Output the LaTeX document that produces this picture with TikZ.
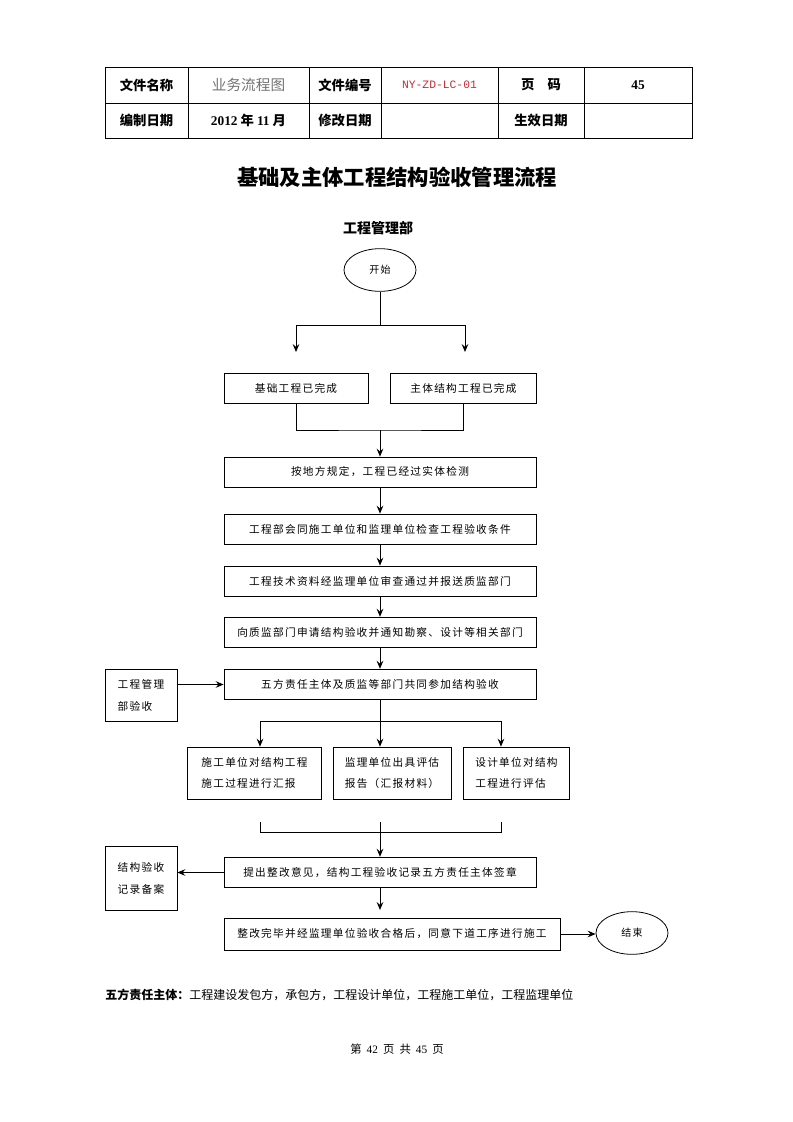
\documentclass[tikz,border=0pt]{standalone}
\usepackage{fontspec}
\setmainfont{Noto Sans CJK SC}
\newfontfamily\kuangfont[LetterSpace=12]{Noto Sans CJK SC}
\newfontfamily\shuzifont{Liberation Serif}
\newfontfamily\bianhaofont{Liberation Mono}
\usetikzlibrary{arrows.meta,shapes.geometric}
\tikzset{every picture/.style={line width=0.6pt}}
\tikzset{
	kuang/.style={draw,rectangle,inner sep=2pt,minimum height=23pt,
		font=\kuangfont\fontsize{8pt}{15.5pt}\selectfont},
	xiaokuang/.style={draw,rectangle,inner sep=2pt,align=left,minimum width=54pt,
		font=\kuangfont\fontsize{8pt}{16.5pt}\selectfont},
	tuoyuan/.style={draw,ellipse,inner sep=0pt,minimum width=54pt,minimum height=32pt,
		font=\kuangfont\fontsize{7.5pt}{9pt}\selectfont},
	jiantou/.style={-{Stealth[length=6pt,width=5pt,inset=2.2pt]}},
	biaotou/.style={font=\bfseries\fontsize{10pt}{12pt}\selectfont}
}

\begin{document}
\begin{tikzpicture}[x=0.75pt,y=0.75pt,yscale=-1,xscale=1]
	\useasboundingbox (0,0) rectangle (793,1122);

	%Table: header
	\draw (105,67) rectangle (692,138);
	\draw (105,103) -- (692,103);
	\foreach \lie in {188,309,381,498,584}
		\draw (\lie,67) -- (\lie,138);

	% Text Node
	\node[biaotou] (mingcheng) at (146.5,85) {文件名称};
	\node[font=\fontsize{11pt}{13pt}\selectfont,text=black!55] (yewu) at (248.5,85) {业务流程图};
	\node[biaotou] (bianhao) at (345,85) {文件编号};
	\node[font=\bianhaofont\fontsize{8.5pt}{10pt}\selectfont,text={rgb,255:red,200;green,40;blue,50}] (daihao) at (439.5,85) {NY-ZD-LC-01};
	\node[biaotou] (yema) at (541,85) {页\quad 码};
	\node[biaotou] (zongye) at (638,85) {\shuzifont 45};
	\node[biaotou] (bianzhi) at (146.5,120.5) {编制日期};
	\node[biaotou] (riqi) at (248.5,120.5) {{\shuzifont 2012} 年 {\shuzifont 11} 月};
	\node[biaotou] (xiugai) at (345,120.5) {修改日期};
	\node[biaotou] (shengxiao) at (541,120.5) {生效日期};

	% Text Node
	\node[font=\bfseries\fontsize{16pt}{18pt}\selectfont] (biaoti) at (397,177) {基础及主体工程结构验收管理流程};
	\node[font=\bfseries\fontsize{10.5pt}{12pt}\selectfont] (bumen) at (378,228) {工程管理部};

	%Shape: Ellipse
	\node[tuoyuan] (kaishi) at (380,270) {开始};

	%Shape: Rectangle
	\node[kuang,minimum width=108pt] (jichu) at (296,388.5) {基础工程已完成};
	\node[kuang,minimum width=109pt] (zhuti) at (463.5,388.5) {主体结构工程已完成};
	\node[kuang,minimum width=234pt,minimum height=22.5pt] (jiance) at (380,472) {按地方规定，工程已经过实体检测};
	\node[kuang,minimum width=234pt,minimum height=22.5pt] (tiaojian) at (380,529) {工程部会同施工单位和监理单位检查工程验收条件};
	\node[kuang,minimum width=234pt,minimum height=22.5pt] (ziliao) at (380,581) {工程技术资料经监理单位审查通过并报送质监部门};
	\node[kuang,minimum width=234pt] (shenqing) at (380,632.5) {向质监部门申请结构验收并通知勘察、设计等相关部门};
	\node[kuang,minimum width=234pt] (yanshou) at (380,684.5) {五方责任主体及质监等部门共同参加结构验收};
	\node[xiaokuang,minimum height=39pt] (guanli) at (141,695) {工程管理\\部验收};

	\node[kuang,align=left,minimum width=100pt,minimum height=39pt] (huibao) at (254.5,773) {施工单位对结构工程\\施工过程进行汇报};
	\node[kuang,align=left,minimum width=88.5pt,minimum height=39pt] (pinggu) at (392,773) {监理单位出具评估\\报告（汇报材料）};
	\node[kuang,align=left,minimum width=79pt,minimum height=39pt] (sheji) at (516.5,773) {设计单位对结构\\工程进行评估};

	\node[kuang,minimum width=234pt] (yijian) at (380,872.5) {提出整改意见，结构工程验收记录五方责任主体签章};
	\node[xiaokuang,minimum height=48pt] (beian) at (141,878) {结构验收\\记录备案};
	\node[kuang,minimum width=252pt,minimum height=24pt] (zhenggai) at (392,934) {整改完毕并经监理单位验收合格后，同意下道工序进行施工};
	\node[tuoyuan] (jieshu) at (632,933) {结束};

	%Straight Lines: split after start
	\coordinate (fen) at (380,325);
	\coordinate (fenzuo) at (296,325);
	\coordinate (fenyou) at (465,325);
	\coordinate (zuodi) at (296,352);
	\coordinate (youdi) at (465,352);
	\draw (kaishi.south) -- (fen);
	\draw (fenzuo) -- (fenyou);
	\draw[jiantou] (fenzuo) -- (zuodi);
	\draw[jiantou] (fenyou) -- (youdi);

	%Straight Lines: join
	\coordinate (he) at (380,430);
	\draw (jichu.south) |- (he) -| (zhuti.south);
	\draw[jiantou] (he) -- (jiance.north);

	\draw[jiantou] (jiance) -- (tiaojian);
	\draw[jiantou] (tiaojian) -- (ziliao);
	\draw[jiantou] (ziliao) -- (shenqing);
	\draw[jiantou] (shenqing) -- (yanshou);
	\draw[jiantou] (guanli.east |- yanshou.west) -- (yanshou.west);

	%Straight Lines: three branches
	\coordinate (zhizuo) at (260,721);
	\coordinate (zhiyou) at (501,721);
	\draw (zhizuo) -- (zhiyou);
	\draw[jiantou] (yanshou.south) -- (yanshou.south |- pinggu.north);
	\draw[jiantou] (zhizuo) -- (zhizuo |- huibao.north);
	\draw[jiantou] (zhiyou) -- (zhiyou |- sheji.north);

	%Straight Lines: bracket
	\coordinate (kuozuo) at (260,822);
	\coordinate (kuoyou) at (501,822);
	\coordinate (kuozhong) at (380,822);
	\draw (kuozuo) -- ++(0,10) -| (kuoyou);
	\draw[jiantou] (kuozhong) -- (yijian.north);
	\draw[jiantou] (yijian.west) -- (beian.east |- yijian.west);
	\coordinate (xiadi) at (380,910);
	\draw[jiantou] (yijian.south) -- (xiadi);
	\draw[jiantou] (zhenggai.east) -- (zhenggai.east -| jieshu.west);

	% Text Node
	\node[anchor=west,inner sep=0pt,font=\fontsize{9pt}{11pt}\selectfont] (zhuti5) at (105,995) {\textbf{五方责任主体：}工程建设发包方，承包方，工程设计单位，工程施工单位，工程监理单位};
	\node[font=\fontsize{8.5pt}{10pt}\selectfont] (yeshu) at (397,1049) {第\hspace{0.45em}{\shuzifont 42}\hspace{0.45em}页\hspace{0.45em}共\hspace{0.45em}{\shuzifont 45}\hspace{0.45em}页};

\end{tikzpicture}
\end{document}
